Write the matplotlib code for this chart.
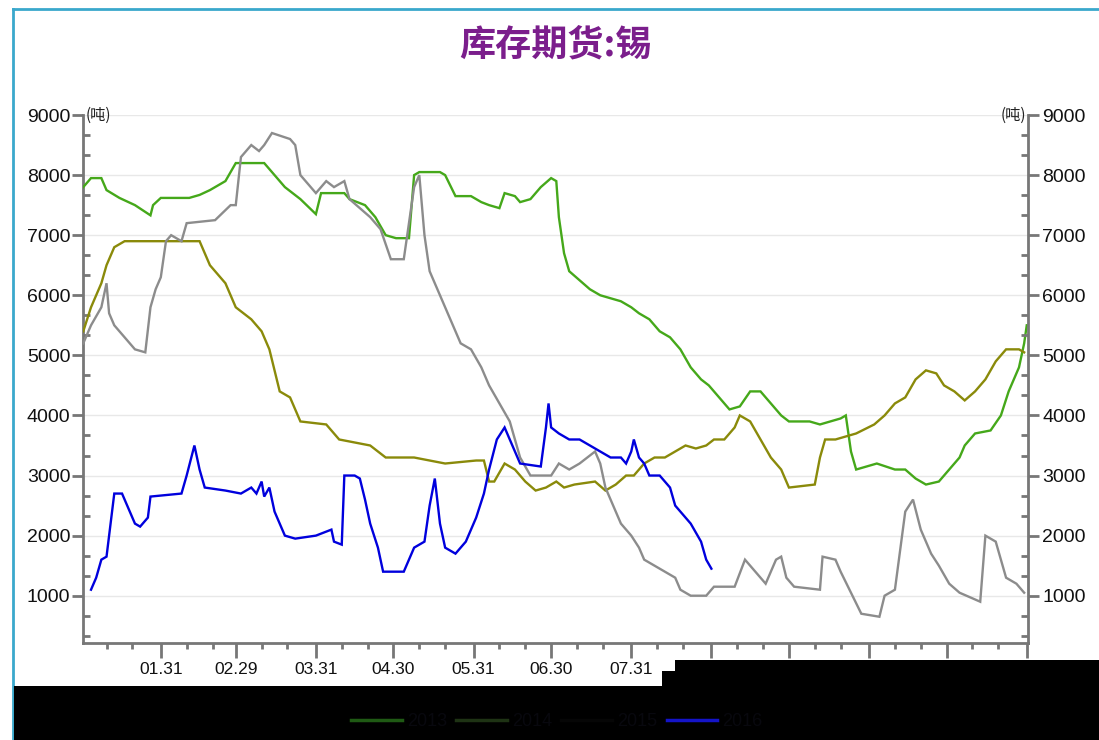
import numpy as np
import matplotlib
matplotlib.use("Agg")
import matplotlib.pyplot as plt
from matplotlib.lines import Line2D
from matplotlib.patches import Rectangle
from matplotlib.ticker import FixedLocator, MultipleLocator

# ---------------- data ----------------
title = "库存期货:锡"
unit = "(吨)"
series_names = ["2013", "2014", "2015", "2016"]
series_colors = ["#45a81a", "#8a8a0a", "#8c8c8c", "#0000dd"]
legend_colors = ["#1f5a14", "#1e3314", "#060606", "#1414c8"]

month_end_days = [31, 60, 91, 121, 152, 182, 213, 244, 274, 305, 335, 366]
month_end_labels = ["01.31", "02.29", "03.31", "04.30", "05.31", "06.30",
                    "07.31", "08.31", "09.30", "10.31", "11.30", "12.31"]
month_start_days = [1, 32, 61, 92, 122, 153, 183, 214, 245, 275, 306, 336]
y_ticks = [1000, 2000, 3000, 4000, 5000, 6000, 7000, 8000, 9000]

green_day = [1, 4, 8, 10, 15, 21, 27, 28, 31, 42, 46, 50, 56, 60, 71, 73, 79, 85, 91, 93,
             102, 104, 110, 114, 118, 122, 127, 129, 131, 139, 141, 145, 151, 155, 158, 162,
             164, 168, 170, 174, 178, 182, 184, 185, 187, 189, 193, 197, 201, 205, 209, 213,
             216, 220, 224, 228, 232, 236, 240, 243, 247, 251, 255, 259, 263, 267, 271, 274,
             282, 286, 294, 296, 298, 300, 308, 315, 319, 323, 327, 332, 336, 340, 342, 346,
             352, 356, 359, 363, 365, 366]
green_val = [7800, 7950, 7950, 7750, 7620, 7500, 7330, 7500, 7620, 7620, 7670, 7750, 7900,
             8200, 8200, 8100, 7800, 7600, 7350, 7700, 7700, 7600, 7500, 7300, 7000, 6950,
             6950, 8000, 8050, 8050, 8000, 7650, 7650, 7550, 7500, 7450, 7700, 7650, 7550,
             7600, 7800, 7950, 7900, 7300, 6700, 6400, 6250, 6100, 6000, 5950, 5900, 5800,
             5700, 5600, 5400, 5300, 5100, 4800, 4600, 4500, 4300, 4100, 4150, 4400, 4400,
             4200, 4000, 3900, 3900, 3850, 3950, 4000, 3400, 3100, 3200, 3100, 3100, 2950,
             2850, 2900, 3100, 3300, 3500, 3700, 3750, 4000, 4400, 4800, 5200, 5500]

olive_day = [1, 4, 8, 10, 13, 17, 46, 48, 50, 52, 56, 60, 66, 70, 73, 77, 81, 85, 95, 100,
             112, 118, 129, 141, 153, 156, 158, 160, 164, 168, 172, 176, 180, 184, 187, 191,
             199, 203, 207, 211, 214, 218, 222, 226, 230, 234, 238, 242, 245, 249, 253, 255,
             259, 263, 267, 271, 274, 284, 286, 288, 292, 300, 307, 311, 315, 319, 323, 327,
             331, 334, 338, 342, 346, 350, 354, 358, 363, 365]
olive_val = [5400, 5800, 6200, 6500, 6800, 6900, 6900, 6700, 6500, 6400, 6200, 5800, 5600,
             5400, 5100, 4400, 4300, 3900, 3850, 3600, 3500, 3300, 3300, 3200, 3250, 3250,
             2900, 2900, 3200, 3100, 2900, 2750, 2800, 2900, 2800, 2850, 2900, 2750, 2850,
             3000, 3000, 3200, 3300, 3300, 3400, 3500, 3450, 3500, 3600, 3600, 3800, 4000,
             3900, 3600, 3300, 3100, 2800, 2850, 3300, 3600, 3600, 3700, 3850, 4000, 4200,
             4300, 4600, 4750, 4700, 4500, 4400, 4250, 4400, 4600, 4900, 5100, 5100, 5050]

gray_day = [1, 4, 8, 10, 11, 13, 17, 21, 25, 27, 29, 31, 33, 35, 39, 41, 52, 58, 60, 62, 66,
            69, 71, 74, 81, 83, 85, 91, 95, 98, 102, 104, 112, 116, 120, 125, 127, 129, 131,
            133, 135, 139, 143, 147, 151, 155, 158, 162, 166, 170, 174, 182, 185, 189, 193,
            199, 201, 203, 207, 209, 213, 216, 218, 222, 226, 230, 232, 236, 242, 245, 253,
            257, 259, 265, 269, 271, 273, 276, 286, 287, 292, 294, 298, 302, 309, 311, 315,
            319, 322, 325, 329, 332, 336, 340, 348, 350, 354, 358, 362, 365]
gray_val = [5200, 5500, 5800, 6200, 5700, 5500, 5300, 5100, 5050, 5800, 6100, 6300, 6900,
            7000, 6900, 7200, 7250, 7500, 7500, 8300, 8500, 8400, 8500, 8700, 8600, 8500,
            8000, 7700, 7900, 7800, 7900, 7600, 7300, 7100, 6600, 6600, 7200, 7800, 8000,
            7000, 6400, 6000, 5600, 5200, 5100, 4800, 4500, 4200, 3900, 3300, 3000, 3000,
            3200, 3100, 3200, 3400, 3200, 2800, 2400, 2200, 2000, 1800, 1600, 1500, 1400,
            1300, 1100, 1000, 1000, 1150, 1150, 1600, 1500, 1200, 1600, 1650, 1300, 1150,
            1100, 1650, 1600, 1400, 1050, 700, 650, 1000, 1100, 2400, 2600, 2100, 1700,
            1500, 1200, 1050, 900, 2000, 1900, 1300, 1200, 1050]

blue_day = [4, 6, 8, 10, 11, 13, 16, 18, 21, 23, 26, 27, 39, 41, 44, 46, 48, 56, 62, 66,
            68, 70, 71, 73, 75, 79, 83, 91, 97, 98, 101, 102, 106, 108, 110, 112, 115, 117,
            125, 127, 129, 133, 135, 137, 139, 141, 145, 149, 153, 156, 158, 161, 164, 167,
            170, 178, 180, 181, 182, 185, 189, 193, 197, 201, 205, 209, 211, 213, 214, 216,
            218, 220, 224, 226, 228, 230, 232, 236, 240, 242, 244]
blue_val = [1100, 1300, 1600, 1650, 2000, 2700, 2700, 2500, 2200, 2150, 2300, 2650, 2700,
            3000, 3500, 3100, 2800, 2750, 2700, 2800, 2700, 2900, 2650, 2800, 2400, 2000,
            1950, 2000, 2100, 1900, 1850, 3000, 3000, 2950, 2600, 2200, 1800, 1400, 1400,
            1600, 1800, 1900, 2500, 2950, 2200, 1800, 1700, 1900, 2300, 2700, 3100, 3600,
            3800, 3500, 3200, 3150, 3800, 4200, 3800, 3700, 3600, 3600, 3500, 3400, 3300,
            3300, 3200, 3400, 3600, 3300, 3200, 3000, 3000, 2900, 2800, 2500, 2400, 2200,
            1900, 1600, 1450]

# ---------------- figure ----------------
W, H = 1099, 740
fig = plt.figure(figsize=(W / 100, H / 100), dpi=100)
fig.patch.set_facecolor("white")

def fx(px):
    return px / W

def fy(py):
    return 1 - py / H

ax = fig.add_axes([fx(83), fy(642.7), fx(1028.3) - fx(83), fy(115) - fy(642.7)])
ax.set_xlim(0.9, 366.6)
ax.set_ylim(218, 9000)

days = [green_day, olive_day, gray_day, blue_day]
vals = [green_val, olive_val, gray_val, blue_val]
for d, v, c in zip(days, vals, series_colors):
    ax.plot(d, v, color=c, lw=1.7, solid_joinstyle="miter", zorder=3)

spine_c = "#777777"
tick_font = {"family": "Liberation Sans", "size": 14, "color": "#111111"}

for s in ["top", "right"]:
    ax.spines[s].set_visible(False)
for s in ["left", "bottom"]:
    ax.spines[s].set_color(spine_c)
    ax.spines[s].set_linewidth(2)

ax.yaxis.set_major_locator(FixedLocator(y_ticks))
ax.yaxis.set_minor_locator(MultipleLocator(1000 / 3))
ax.set_yticklabels([str(t) for t in y_ticks], fontdict=tick_font)
ax.tick_params(axis="y", which="major", direction="out", length=8, width=2,
               color=spine_c, pad=1)
ax.tick_params(axis="y", which="minor", direction="in", length=5, width=2, color=spine_c)
ax.grid(axis="y", which="major", color="#e8e8e8", lw=1, zorder=0)

ax.xaxis.set_major_locator(FixedLocator(month_end_days))
ax.xaxis.set_minor_locator(FixedLocator([s + 9 for s in month_start_days] +
                                        [s + 19 for s in month_start_days]))
ax.set_xticklabels(month_end_labels, fontdict={"family": "Liberation Sans",
                                               "size": 12.5, "color": "#111111"})
ax.tick_params(axis="x", which="major", direction="out", length=11, width=2,
               color=spine_c, pad=3)
ax.tick_params(axis="x", which="minor", direction="out", length=4.5, width=2,
               color=spine_c)

ax2 = ax.twinx()
ax2.set_ylim(ax.get_ylim())
for s in ["top", "left", "bottom"]:
    ax2.spines[s].set_visible(False)
ax2.spines["right"].set_color(spine_c)
ax2.spines["right"].set_linewidth(2)
ax2.yaxis.set_major_locator(FixedLocator(y_ticks))
ax2.yaxis.set_minor_locator(MultipleLocator(1000 / 3))
ax2.set_yticklabels([str(t) for t in y_ticks], fontdict=tick_font)
ax2.tick_params(axis="y", which="major", direction="out", length=8, width=2,
                color=spine_c, pad=2)
ax2.tick_params(axis="y", which="minor", direction="in", length=5, width=2, color=spine_c)

cjk = ["Noto Sans CJK SC", "DejaVu Sans"]
fig.text(fx(86), fy(115), unit, family=cjk, fontsize=11, ha="left", va="center",
         color="#222222")
fig.text(fx(1026), fy(115), unit, family=cjk, fontsize=11, ha="right", va="center",
         color="#222222")

fig.text(fx(555), fy(45), title, family=cjk, fontsize=26, fontweight="bold",
         color="#7b1e8c", ha="center", va="center")

# frame lines
frame_c = "#3aa8cc"
fig.add_artist(Line2D([fx(13), fx(W)], [fy(8.5), fy(8.5)], color=frame_c, lw=2,
                      transform=fig.transFigure))
fig.add_artist(Line2D([fx(13), fx(13)], [fy(8.5), fy(H)], color=frame_c, lw=2,
                      transform=fig.transFigure))

# dark band at the bottom
for (x0, y0, x1, y1) in [(14, 686, W, H), (675, 660, W, 686), (662, 671, 675, 686)]:
    fig.add_artist(Rectangle((fx(x0), fy(y1)), fx(x1) - fx(x0), fy(y0) - fy(y1),
                             transform=fig.transFigure, facecolor="black",
                             edgecolor="none", zorder=10))

handles = [Line2D([], [], color=c, lw=2.5) for c in legend_colors]
leg = fig.legend(handles, series_names, loc="center", bbox_to_anchor=(fx(557), fy(722)),
                 ncol=4, frameon=False, labelcolor="#08080e",
                 handlelength=2.8, handletextpad=0.3, columnspacing=0.5,
                 prop={"family": "Liberation Sans", "size": 13})
leg.set_zorder(11)

fig.savefig("out.png", dpi=100, facecolor="white")
